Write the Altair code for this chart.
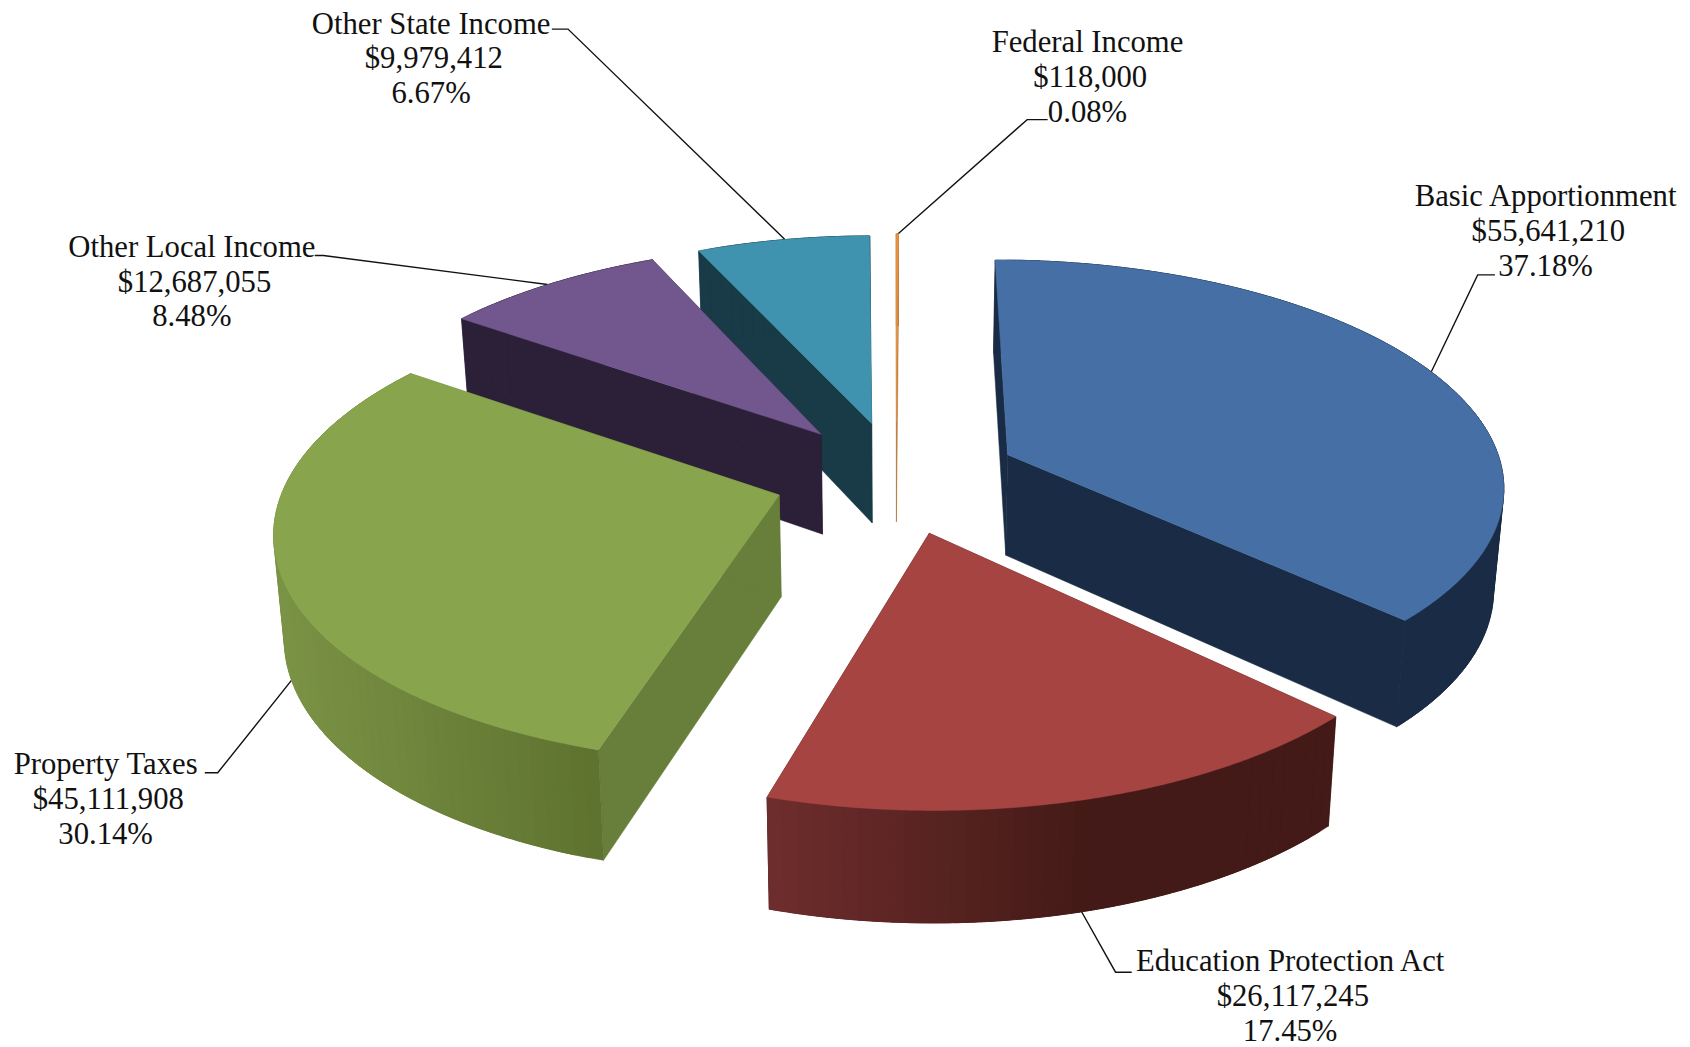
import math
import altair as alt

# ---- values
categories = ["Basic Apportionment", "Education Protection Act", "Property Taxes",
              "Other Local Income", "Other State Income", "Federal Income"]
amounts = [55641210, 26117245, 45111908, 12687055, 9979412, 118000]

# ---- styles
top_colors = ["#4670a5", "#a64442", "#88a54e", "#72578e", "#3f93ae", "#e8923f"]
cut_colors = ["#1a2c45", "#431a17", "#677f3b", "#2b2037", "#183b47", "#b8783a"]
wall_light = ["#1a2c45", "#6e2d2c", "#7b9345", "#2b2037", "#183b47", "#b8783a"]
wall_dark = ["#1a2c45", "#431a17", "#5e722f", "#2b2037", "#183b47", "#b8783a"]
wall_span = [(1000, 1400), (712, 1010), (255, 556), (400, 700), (600, 800), (800, 840)]
draw_order = [5, 4, 3, 0, 2, 1]

# ---- layout (reference pixels at 1568 wide, scaled below)
SCALE = 1690 / 1568
PAGE = 8
CX, CY, EXPLODE_X, EXPLODE_Y, EXPLODE_P, EXPLODE = 832.0, 442.0, 455.0, 209.0, 0.1735, 0.25
DEPTH, DEPTH_P, CONVERGE = 94.0, 0.08, 0.983
# per-slice view of the disc: horizontal radius, vertical radius, perspective, lean
views = [(455, 203, 0.124, -13), (471, 223, 0.133, -4), (462, 212, 0.147, 12),
         (450, 203, 0.156, 7), (433, 195, 0.12, 0), (450, 196, 0.12, 2)]

label_pos = [(1434, 183), (1197, 893), (98, 710), (178, 230), (400, 23), (1009, 40)]
amount_shift = 2.5
line_gap = 32.2
font_size = 30.7
leaders = [
    [(1387, 255), (1371, 255), (1327, 347)],
    [(1050, 902), (1035, 902), (1003, 845)],
    [(190, 717), (202, 717), (273, 628)],
    [(292, 237), (300, 237), (508, 264)],
    [(512, 27), (527, 27), (728, 222)],
    [(972, 111), (953, 111), (832, 218)],
]


def px(p):
    return [round(p[0] * SCALE - PAGE, 2), round(p[1] * SCALE - PAGE, 2)]


def mix(a, b, t):
    ca = [int(a[i:i + 2], 16) for i in (1, 3, 5)]
    cb = [int(b[i:i + 2], 16) for i in (1, 3, 5)]
    return "#" + "".join(f"{round(u + (v - u) * t):02x}" for u, v in zip(ca, cb))


total = sum(amounts)
sweeps = [a / total * 360 for a in amounts]
starts = [sum(sweeps[:i]) for i in range(len(sweeps))]


def make_slice(i):
    t0, t1 = starts[i], starts[i] + sweeps[i]
    mid = math.radians((t0 + t1) / 2)
    ex, ey = EXPLODE * math.sin(mid), EXPLODE * math.cos(mid)
    w0 = 1 + EXPLODE_P * ey
    ax, ay = CX + EXPLODE_X * ex / w0, CY - EXPLODE_Y * ey / w0
    rx, ry, p, lean = views[i]

    def top(deg, r=1.0):
        a = math.radians(deg)
        X, Y = r * math.sin(a), r * math.cos(a)
        w = 1 + p * Y
        return (ax + (rx * X + lean * Y) / w, ay - ry * Y / w)

    def bottom(deg, r=1.0):
        x, y = top(deg, r)
        Yt = ey + r * math.cos(math.radians(deg))
        return (CX + (x - CX) * CONVERGE, y + DEPTH / (1 + DEPTH_P * Yt))

    n = max(2, int(sweeps[i] / 1.5))
    angles = [t0 + (t1 - t0) * k / n for k in range(n + 1)]
    fine = [t0 + (t1 - t0) * k / (n * 4) for k in range(n * 4 + 1)]
    polys = []
    # straight cut faces
    for deg in (t0, t1):
        polys.append(([top(deg, 0), top(deg), bottom(deg), bottom(deg, 0)], cut_colors[i]))
    # curved outer wall: every band runs to the far end, the next band paints over it
    lo, hi = wall_span[i]
    for a, b in zip(angles[:-1], angles[1:]):
        xm = (top(a)[0] + top(b)[0]) / 2
        t = min(1, max(0, (xm - lo) / (hi - lo)))
        run = [d for d in fine if a <= d <= min(t1, b + (t1 - t0) * 2 / n)]
        ring = [top(d) for d in run] + [bottom(d) for d in reversed(run)]
        polys.append((ring, mix(wall_light[i], wall_dark[i], t)))
    # top face
    polys.append(([top(t0, 0)] + [top(a) for a in fine], top_colors[i]))
    return polys


features = []
for i in draw_order:
    for ring, color in make_slice(i):
        coords = [px(p) for p in ring]
        coords.append(coords[0])
        features.append({"type": "Feature", "properties": {"color": color},
                         "geometry": {"type": "Polygon", "coordinates": [coords]}})

leader_features = [{"type": "Feature", "properties": {},
                    "geometry": {"type": "LineString", "coordinates": [px(p) for p in line]}}
                   for line in leaders]

text_rows = []
for name, amt, pos in zip(categories, amounts, label_pos):
    lines = [name, f"${amt:,}", f"{amt / total * 100:.2f}%"]
    for k, line in enumerate(lines):
        shift = amount_shift if k == 1 else 0
        x, y = px((pos[0] + shift, pos[1] + k * line_gap))
        text_rows.append({"lon": x, "lat": y, "label": line})

proj = dict(type="identity", scale=1, translate=[0, 0])


def geo(values):
    return alt.Data(values={"type": "FeatureCollection", "features": values},
                    format=alt.DataFormat(type="json", property="features"))


leader_layer = alt.Chart(geo(leader_features)).mark_geoshape(
    filled=False, stroke="#111111", strokeWidth=1.4
).project(**proj)

pie_layer = alt.Chart(geo(features)).mark_geoshape(strokeWidth=0.5).encode(
    fill=alt.Fill("properties.color:N", scale=None),
    stroke=alt.Stroke("properties.color:N", scale=None),
).project(**proj)

text_layer = alt.Chart(alt.Data(values=text_rows)).mark_text(
    font="Liberation Serif", fontSize=font_size, color="#111111", align="center", baseline="middle"
).encode(
    longitude="lon:Q", latitude="lat:Q", text="label:N"
).project(**proj)

chart = alt.layer(leader_layer, pie_layer, text_layer).properties(
    width=1674, height=1039, padding=0, background="white",
    autosize=alt.AutoSizeParams(type="none"),
).configure_view(stroke=None)

chart.save("out.html", embed_options={"renderer": "svg", "actions": False})
